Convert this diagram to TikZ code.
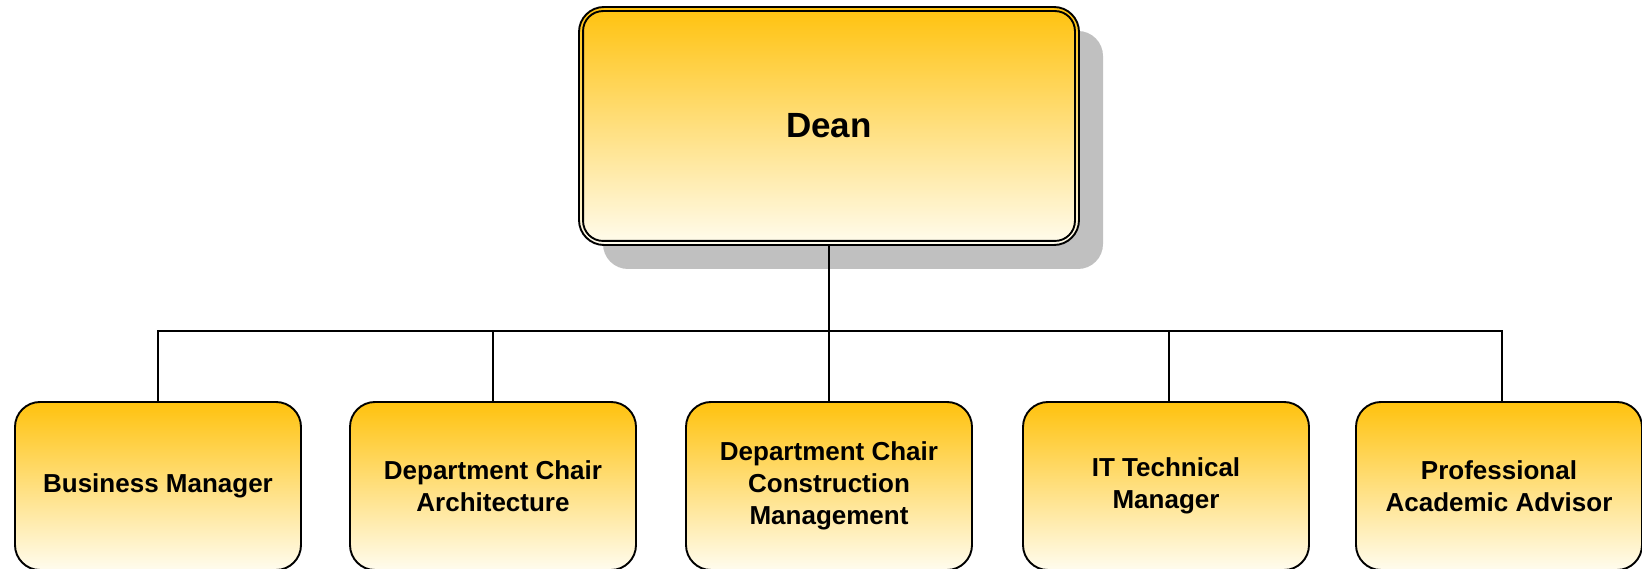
\documentclass[tikz,border=0pt]{standalone}
\usepackage{fontspec}
\setmainfont{Liberation Sans}
\usetikzlibrary{shadows}
\definecolor{boxtop}{RGB}{255,194,14}
\definecolor{boxbottom}{RGB}{255,252,238}
\definecolor{shadowgray}{RGB}{192,192,192}
\tikzset{
  unit/.style = {draw, line width=1.9pt, rounded corners=25pt, top color=boxtop, bottom color=boxbottom,
                 align=center, inner sep=0pt, minimum width=286pt, minimum height=168pt,
                 font=\fontsize{26}{31.7}\selectfont\bfseries},
  head/.style = {unit, minimum width=500pt, minimum height=238pt, font=\fontsize{35}{42}\selectfont\bfseries,
                 drop shadow={shadow xshift=24pt, shadow yshift=-24pt, fill=shadowgray, opacity=1}},
  link/.style = {line width=2.4pt}
}
\begin{document}
\begin{tikzpicture}[x=1pt,y=1pt]
\useasboundingbox (0,0) rectangle (1642,-569);
\node[head] (dean) at (829,-126) {Dean};
\draw[line width=1.9pt, rounded corners=20pt] ([shift={(5,-5)}]dean.north west) rectangle ([shift={(-5,5)}]dean.south east);
\node[unit] (bm)   at (158,-486)  {Business Manager};
\node[unit] (dca)  at (493,-486)  {Department Chair\\Architecture};
\node[unit] (dccm) at (829,-486)  {Department Chair\\Construction\\Management};
\node[unit] (itm)  at (1166,-486) {IT Technical\\Manager};
\node[unit] (paa)  at (1499,-486) {Professional\\Academic Advisor};
\coordinate (bus) at (829,-331);
\draw[link] (dean.south) -- (bus);
\foreach \n/\dx in {bm/0,dca/0,dccm/0,itm/3,paa/3}
	\draw[link] (bus) -| ([xshift=\dx pt]\n.north);
\end{tikzpicture}
\end{document}
